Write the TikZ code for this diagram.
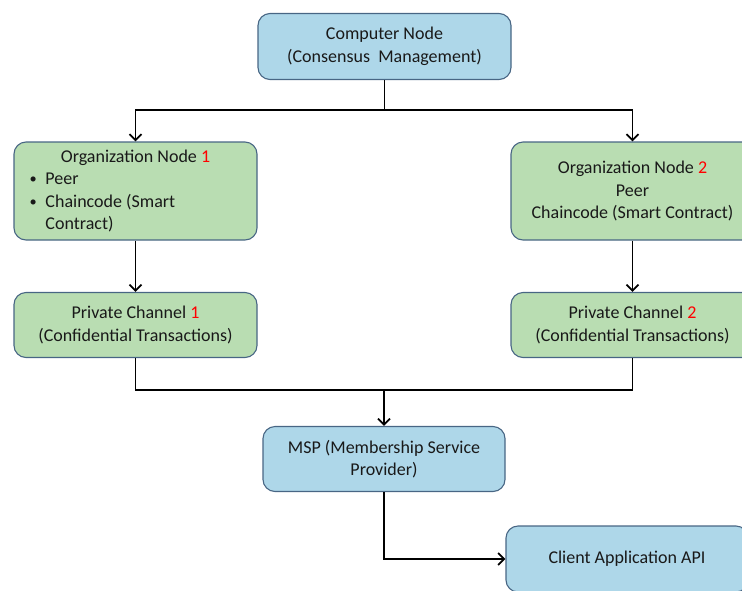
\documentclass[tikz,border=0pt]{standalone}
\usepackage{fontspec}
\setmainfont{Carlito}
\usetikzlibrary{arrows.meta}
\definecolor{boxblue}{RGB}{174,215,233}
\definecolor{boxgreen}{RGB}{185,221,178}
\definecolor{boxline}{RGB}{72,102,132}
\definecolor{numred}{RGB}{255,0,0}
\definecolor{ink}{RGB}{25,25,25}
\newcommand{\num}[1]{\textcolor{numred}{#1}}
\newcommand{\bul}{\makebox[16pt][l]{\raisebox{1pt}{\scalebox{0.8}{\textbullet}}}}
\tikzset{
  card/.style={draw=boxline, line width=1.1pt, rounded corners=12pt,
    inner sep=0pt, align=center, text=ink, font=\fontsize{18}{22.5}\selectfont},
  bluecard/.style={card, fill=boxblue},
  greencard/.style={card, fill=boxgreen},
  link/.style={line width=1.8pt, -{Straight Barb[length=6pt,width=12pt,line width=1.8pt]}},
  plain/.style={line width=1.8pt},
}
\begin{document}
\begin{tikzpicture}[x=1pt,y=-1pt]
\useasboundingbox (0,0) rectangle (742,590);

% boxes
\node[bluecard, minimum width=253pt, minimum height=66pt] (comp) at (384.5,46.5)
  {Computer Node\\(Consensus\ \ Management)};

\node[greencard, minimum width=243pt, minimum height=98pt, align=left] (org1) at (135.5,191)
  {\makebox[212pt][c]{Organization Node \num{1}}\\
   \bul Peer\\
   \bul Chaincode (Smart\\
   \hspace*{16pt}Contract)};

\node[greencard, minimum width=243pt, minimum height=98pt] (org2) at (632.5,191)
  {Organization Node \num{2}\\Peer\\Chaincode (Smart Contract)};

\node[greencard, minimum width=243pt, minimum height=65pt] (pc1) at (135.5,325)
  {Private Channel \num{1}\\(Confidential Transactions)};

\node[greencard, minimum width=243pt, minimum height=65pt] (pc2) at (632.5,325)
  {Private Channel \num{2}\\(Confidential Transactions)};

\node[bluecard, minimum width=242pt, minimum height=65pt] (msp) at (384,459)
  {MSP (Membership Service\\Provider)};

\node[bluecard, minimum width=242pt, minimum height=66pt] (client) at (627,559)
  {Client Application API};

% junction points
\coordinate (split) at (384.5,110);
\coordinate (merge) at (384,390);

% connectors
\draw[plain] (comp.south) -- (split);
\draw[link] (split) -| (org1.north);
\draw[link] (split) -| (org2.north);
\draw[link] (org1.south) -- (pc1.north);
\draw[link] (org2.south) -- (pc2.north);
\draw[plain] (pc1.south) |- (merge);
\draw[plain] (pc2.south) |- (merge);
\draw[link] (merge) -- (msp.north);
\draw[link] (msp.south) |- (client.west);
\end{tikzpicture}
\end{document}
